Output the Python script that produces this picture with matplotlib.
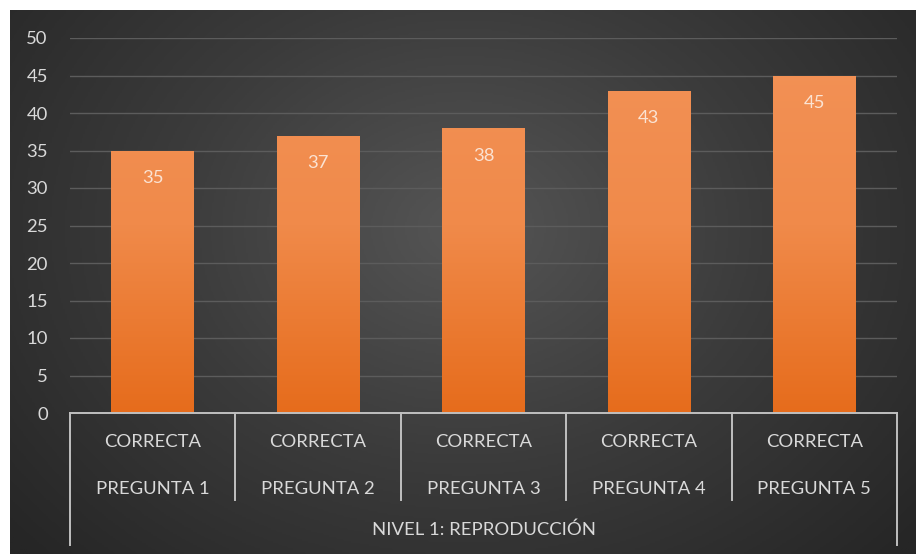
import numpy as np
import matplotlib
matplotlib.use("Agg")
import matplotlib.pyplot as plt
from matplotlib.colors import LinearSegmentedColormap
import matplotlib.transforms as mtransforms

preguntas = ["PREGUNTA 1", "PREGUNTA 2", "PREGUNTA 3", "PREGUNTA 4", "PREGUNTA 5"]
estado = "CORRECTA"
nivel = "NIVEL 1: REPRODUCCIÓN"
valores = [35, 37, 38, 43, 45]
yticks = list(range(0, 51, 5))

plt.rcParams["font.family"] = ["Lato", "DejaVu Sans"]
FS = 13.3

W, H = 916, 554
fig = plt.figure(figsize=(W / 100, H / 100), dpi=100, facecolor="white")

# fondo oscuro con degradado radial
bg = fig.add_axes([10 / W, 0, (W - 10) / W, (H - 10) / H])
bg.set_axis_off()
yy, xx = np.mgrid[0:300, 0:500]
cx, cy = 250, 120
r = np.sqrt(((xx - cx) / 330) ** 2 + ((yy - cy) / 260) ** 2)
r = np.clip(r, 0, 1)
bg_cmap = LinearSegmentedColormap.from_list("bg", ["#555555", "#3b3b3b", "#262626"])
bg.imshow(r, cmap=bg_cmap, aspect="auto", extent=[0, 1, 0, 1], origin="upper")
bg.set_xlim(0, 1)
bg.set_ylim(0, 1)

left, right, bottom, top = 70, 897, 413, 38
ax = fig.add_axes([left / W, (H - bottom) / H, (right - left) / W, (bottom - top) / H])
ax.patch.set_alpha(0)
ax.set_yticks(yticks)
ax.set_yticklabels([str(t) for t in yticks])
ax.tick_params(axis="y", length=0, pad=16, labelsize=FS, labelcolor="#d9d9d9")
ax.set_xticks([])
for s in ax.spines.values():
    s.set_visible(False)
ax.yaxis.grid(True, color="#5c5c5c", linewidth=1.0)
ax.set_axisbelow(True)

x = np.arange(len(valores))
bars = ax.bar(x, valores, width=0.5, color="none", edgecolor="none", zorder=2)

bar_cmap = LinearSegmentedColormap.from_list("bar", ["#e66c1c", "#f08a4a", "#f39257"])
grad = np.linspace(0, 1, 256).reshape(-1, 1)
for b, v in zip(bars, valores):
    x0 = b.get_x()
    im = ax.imshow(grad, cmap=bar_cmap, aspect="auto", origin="lower",
                   extent=[x0, x0 + b.get_width(), 0, 50], zorder=2)
    im.set_clip_path(b)
    ax.text(b.get_x() + b.get_width() / 2, v - 3.7, str(v), ha="center", va="center",
            color="#fbe3d3", fontsize=FS, zorder=3)

ax.set_xlim(-0.5, len(valores) - 0.5)
ax.set_ylim(0, 50)

# eje de categorías en dos niveles
ph = bottom - top
trans = mtransforms.blended_transform_factory(ax.transData, ax.transAxes)
line_kw = dict(color="#c0c0c0", linewidth=1.4, transform=trans, clip_on=False)
n = len(valores)
ax.plot([-0.5, n - 0.5], [0, 0], **line_kw)
for i in range(n + 1):
    edge = i - 0.5
    y_end = -(545 - bottom) / ph if i in (0, n) else -(500 - bottom) / ph
    ax.plot([edge, edge], [0, y_end], **line_kw)

for i, p in enumerate(preguntas):
    ax.text(i, -(442 - bottom) / ph, estado, ha="center", va="center",
            color="#d9d9d9", fontsize=FS, transform=trans)
    ax.text(i, -(489 - bottom) / ph, p, ha="center", va="center",
            color="#d9d9d9", fontsize=FS, transform=trans)
ax.text((n - 1) / 2, -(530 - bottom) / ph, nivel, ha="center", va="center",
        color="#d9d9d9", fontsize=FS, transform=trans)

fig.savefig("out.png", dpi=100, facecolor="white")
